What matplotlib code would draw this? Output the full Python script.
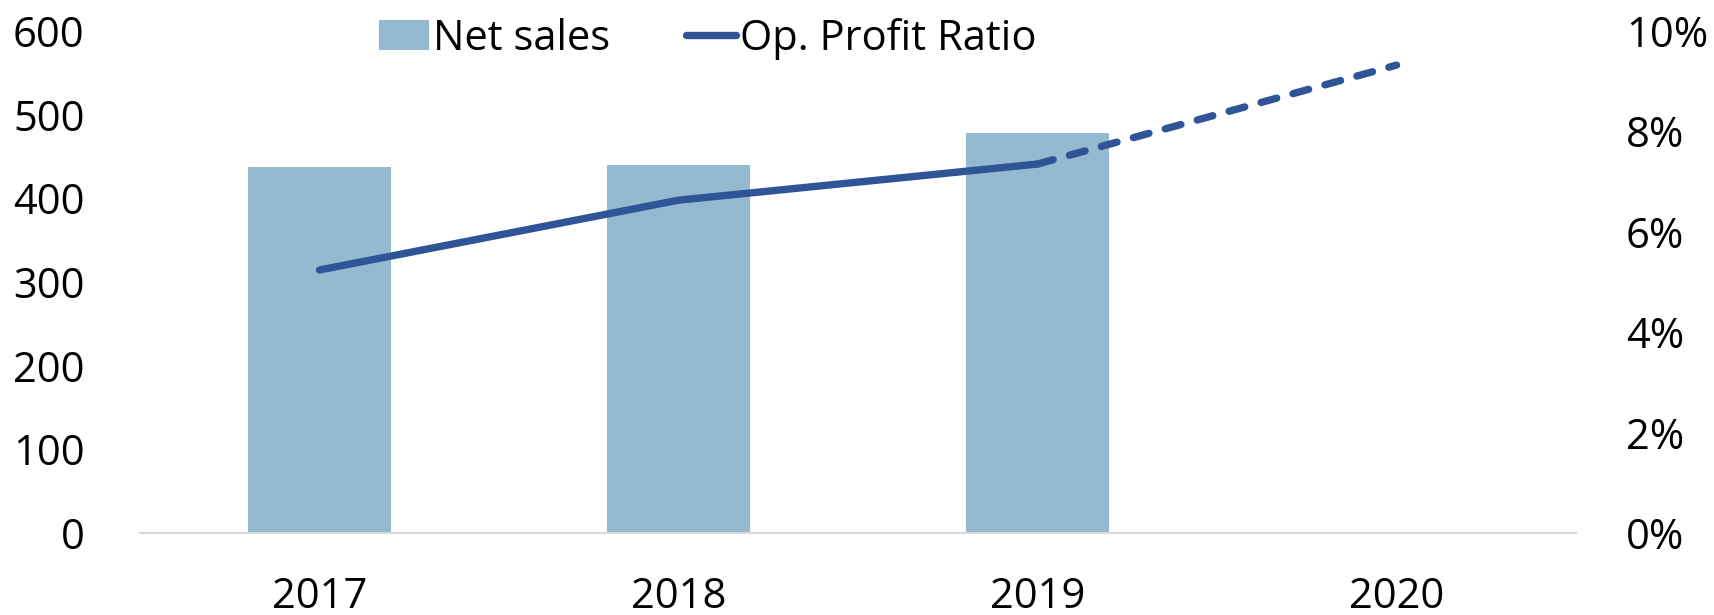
import matplotlib
matplotlib.use("Agg")
import matplotlib.pyplot as plt
from matplotlib.ticker import FuncFormatter

plt.rcParams['font.family'] = ['Open Sans', 'DejaVu Sans']

years = ['2017', '2018', '2019', '2020']
net_sales = [437, 440, 478]            # 2020 has no bar
op_profit_ratio = [5.24, 6.63, 7.35, 9.32]  # %, 2020 is a forecast (dashed)

bar_color = '#95B9D1'
line_color = '#2F5597'

fig = plt.figure(figsize=(17.14, 6.15), dpi=100)
ax = fig.add_axes([0.0817, 0.1333, 0.8378, 0.8163])
ax2 = ax.twinx()

x = list(range(len(years)))
ax.bar(x[:len(net_sales)], net_sales, width=0.4, color=bar_color, label='Net sales', zorder=2)

ax2.plot(x[:3], op_profit_ratio[:3], color=line_color, lw=5.3,
         solid_capstyle='round', label='Op. Profit Ratio')
ax2.plot(x[2:], op_profit_ratio[2:], color=line_color, lw=5.3,
         dashes=(2.2, 2.3), dash_capstyle='round')

ax.set_xlim(-0.5, 3.5)
ax.set_ylim(0, 600)
ax.set_yticks(range(0, 601, 100))
ax2.set_ylim(0, 10)
ax2.set_yticks(range(0, 11, 2))
ax2.yaxis.set_major_formatter(FuncFormatter(lambda v, p: f'{int(v)}%'))

ax.set_xticks(x)
ax.set_xticklabels(years)

for a in (ax, ax2):
    for s in a.spines.values():
        s.set_visible(False)
    a.tick_params(length=0, labelsize=30)
ax.spines['bottom'].set_visible(True)
ax.spines['bottom'].set_color('#D9D9D9')
ax.spines['bottom'].set_linewidth(1.5)
ax.tick_params(axis='y', pad=40)
ax.tick_params(axis='x', pad=31)
ax2.tick_params(axis='y', pad=36)

h1, l1 = ax.get_legend_handles_labels()
h2, l2 = ax2.get_legend_handles_labels()
ax.legend(h1 + h2, l1 + l2, loc='upper left', bbox_to_anchor=(0.155, 1.06),
          ncol=2, frameon=False, fontsize=30, handlelength=1.2,
          handletextpad=0.1, columnspacing=1.8, borderaxespad=0)

fig.savefig('out.png', dpi=100)
